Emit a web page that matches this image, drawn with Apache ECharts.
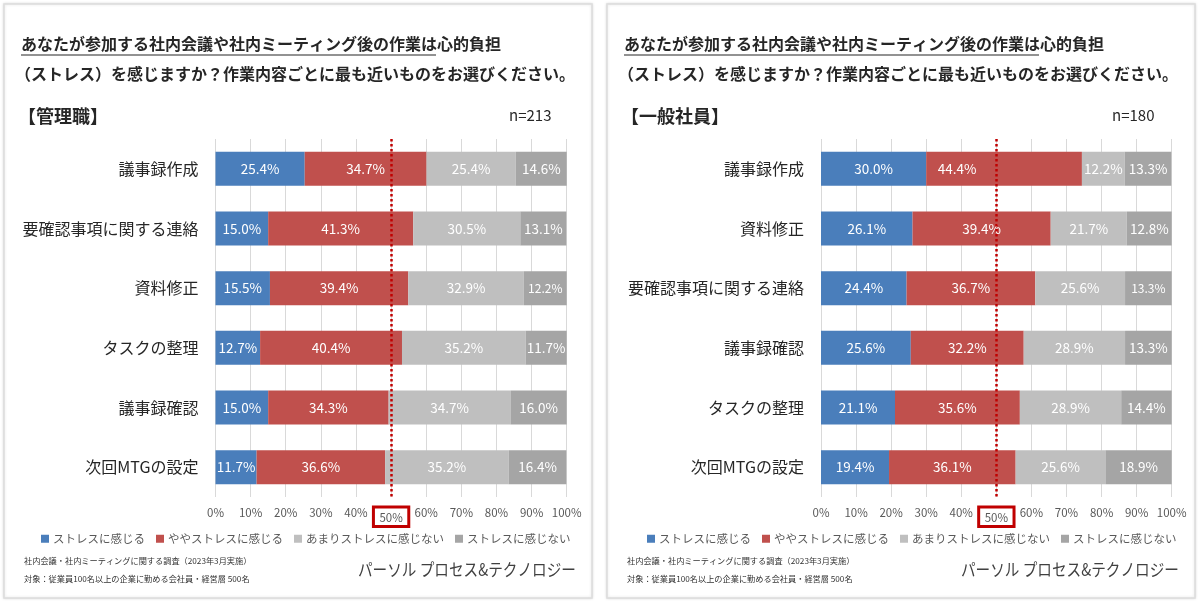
<!DOCTYPE html>
<html>
<head>
<meta charset="UTF-8">
<title></title>
<script src="https://cdn.jsdelivr.net/npm/echarts@6/dist/echarts.min.js"></script>
<style>
  * { padding: 0; margin: 0; }
  body { background: #fff; }
  #main { width: 1200px; height: 603px; }
</style>
</head>
<body>
<div id="main"></div>
<script>
// --- data ---
var seriesNames = ['ストレスに感じる', 'ややストレスに感じる', 'あまりストレスに感じない', 'ストレスに感じない'];
var seriesColors = ['#4a7ebb', '#c0504d', '#bfbfbf', '#a5a5a5'];
var xTicks = [0, 10, 20, 30, 40, 50, 60, 70, 80, 90, 100];

// 管理職 n=213
var mgrCategories = ['議事録作成', '要確認事項に関する連絡', '資料修正', 'タスクの整理', '議事録確認', '次回MTGの設定'];
var mgrStrong   = [25.4, 15.0, 15.5, 12.7, 15.0, 11.7];
var mgrSomewhat = [34.7, 41.3, 39.4, 40.4, 34.3, 36.6];
var mgrLittle   = [25.4, 30.5, 32.9, 35.2, 34.7, 35.2];
var mgrNone     = [14.6, 13.1, 12.2, 11.7, 16.0, 16.4];

// 一般社員 n=180
var staffCategories = ['議事録作成', '資料修正', '要確認事項に関する連絡', '議事録確認', 'タスクの整理', '次回MTGの設定'];
var staffStrong   = [30.0, 26.1, 24.4, 25.6, 21.1, 19.4];
var staffSomewhat = [44.4, 39.4, 36.7, 32.2, 35.6, 36.1];
var staffLittle   = [12.2, 21.7, 25.6, 28.9, 28.9, 25.6];
var staffNone     = [13.3, 12.8, 13.3, 13.3, 14.4, 18.9];

var FONT = '"Noto Sans CJK JP", "Noto Sans", sans-serif';
var myChart = echarts.init(document.getElementById('main'));

function makeSeries(panel, lists) {
  return lists.map(function (vals, k) {
    var data = vals.map(function (v) { return { value: v }; });
    // in the original the label of this one segment sits left of centre
    if (panel === 1 && k === 1) {
      data[0].label = { offset: [-47, 0] };
    }
    // a couple of labels are set smaller in the original
    if (k === 3) {
      data[2].label = { fontSize: 12 };
    }
    var s = {
      name: seriesNames[k],
      type: 'bar',
      stack: 'p' + panel,
      xAxisIndex: panel,
      yAxisIndex: panel,
      barWidth: 34,
      itemStyle: { color: seriesColors[k] },
      label: {
        show: true,
        color: '#fff',
        fontSize: 13.5,
        fontFamily: FONT,
        formatter: function (p) { return p.value.toFixed(1) + '%'; }
      },
      data: data
    };
    if (k === 3) {
      s.markLine = {
        silent: true,
        symbol: 'none',
        label: { show: false },
        lineStyle: { color: '#c00000', type: 'dotted', width: 2.5 },
        data: [{ xAxis: 50 }]
      };
    }
    return s;
  });
}

function xAxisOpt(panel) {
  return {
    type: 'value',
    gridIndex: panel,
    min: 0,
    max: 100,
    interval: 10,
    axisLine: { show: false },
    axisTick: { show: false },
    splitLine: { lineStyle: { color: '#d9d9d9', width: 1 } },
    axisLabel: {
      margin: 10,
      fontSize: 11.5,
      color: '#595959',
      fontFamily: FONT,
      formatter: function (v) { return v === 50 ? '{hl|50%}' : v + '%'; },
      rich: {
        hl: {
          fontSize: 11.5,
          color: '#595959',
          borderColor: '#c00000',
          borderWidth: 3,
          padding: [5, 6, 3, 6]
        }
      }
    }
  };
}

function yAxisOpt(panel, cats) {
  return {
    type: 'category',
    gridIndex: panel,
    inverse: true,
    data: cats,
    axisLine: { show: false },
    axisTick: { show: false },
    axisLabel: { fontSize: 16, color: '#262626', margin: 17, fontFamily: FONT }
  };
}

function legendOpt(left) {
  return {
    data: seriesNames,
    left: left,
    top: 528,
    icon: 'rect',
    itemWidth: 8,
    itemHeight: 8,
    itemGap: 11,
    selectedMode: false,
    textStyle: { fontSize: 11.5, color: '#595959', fontFamily: FONT, padding: [0, 0, 0, -1] }
  };
}

function panelGraphics(x0, tag, n) {
  return [
    { type: 'rect', shape: { x: x0, y: 4, width: 588, height: 594 },
      style: { fill: '#fff', stroke: '#dcdcdc', lineWidth: 1.5, shadowBlur: 3, shadowColor: 'rgba(0,0,0,0.12)' }, z: -10 },
    { type: 'text', left: x0 + 17, top: 36,
      style: { text: 'あなたが参加する社内会議や社内ミーティング後の作業は心的負担', fontSize: 16, fontWeight: 'bold', fill: '#262626', fontFamily: FONT } },
    { type: 'line', shape: { x1: x0 + 17, y1: 55, x2: x0 + 432, y2: 55 }, style: { stroke: '#262626', lineWidth: 1.2 } },
    { type: 'text', left: x0 + 11, top: 66,
      style: { text: '（ストレス）を感じますか？作業内容ごとに最も近いものをお選びください。', fontSize: 16, fontWeight: 'bold', fill: '#262626', fontFamily: FONT } },
    { type: 'text', left: x0 + 14, top: 107,
      style: { text: tag, fontSize: 18, fontWeight: 'bold', fill: '#262626', fontFamily: FONT } },
    { type: 'text', left: x0 + 505, top: 108,
      style: { text: n, fontSize: 15, fill: '#262626', fontFamily: FONT } },
    { type: 'text', left: x0 + 20, top: 557,
      style: { text: '社内会議・社内ミーティングに関する調査（2023年3月実施）', fontSize: 8.2, fill: '#333', fontFamily: FONT } },
    { type: 'text', left: x0 + 20, top: 575,
      style: { text: '対象：従業員100名以上の企業に勤める会社員・経営層 500名', fontSize: 8.2, fill: '#333', fontFamily: FONT } },
    { type: 'text', x: x0 + 354, y: 561, scaleX: 0.86,
      style: { text: 'パーソル プロセス&テクノロジー', fontSize: 17, fill: '#404040', fontFamily: FONT } }
  ];
}

var series = makeSeries(0, [mgrStrong, mgrSomewhat, mgrLittle, mgrNone])
  .concat(makeSeries(1, [staffStrong, staffSomewhat, staffLittle, staffNone]));

myChart.setOption({
  animation: false,
  textStyle: { fontFamily: FONT },
  grid: [
    { left: 215.5, right: 633.3, top: 139, bottom: 106 },
    { left: 821, right: 28.3, top: 139, bottom: 106 }
  ],
  xAxis: [xAxisOpt(0), xAxisOpt(1)],
  yAxis: [yAxisOpt(0, mgrCategories), yAxisOpt(1, staffCategories)],
  legend: [legendOpt(36), legendOpt(642)],
  graphic: panelGraphics(4, '【管理職】', 'n=213').concat(panelGraphics(607, '【一般社員】', 'n=180')),
  series: series
});
</script>
</body>
</html>
